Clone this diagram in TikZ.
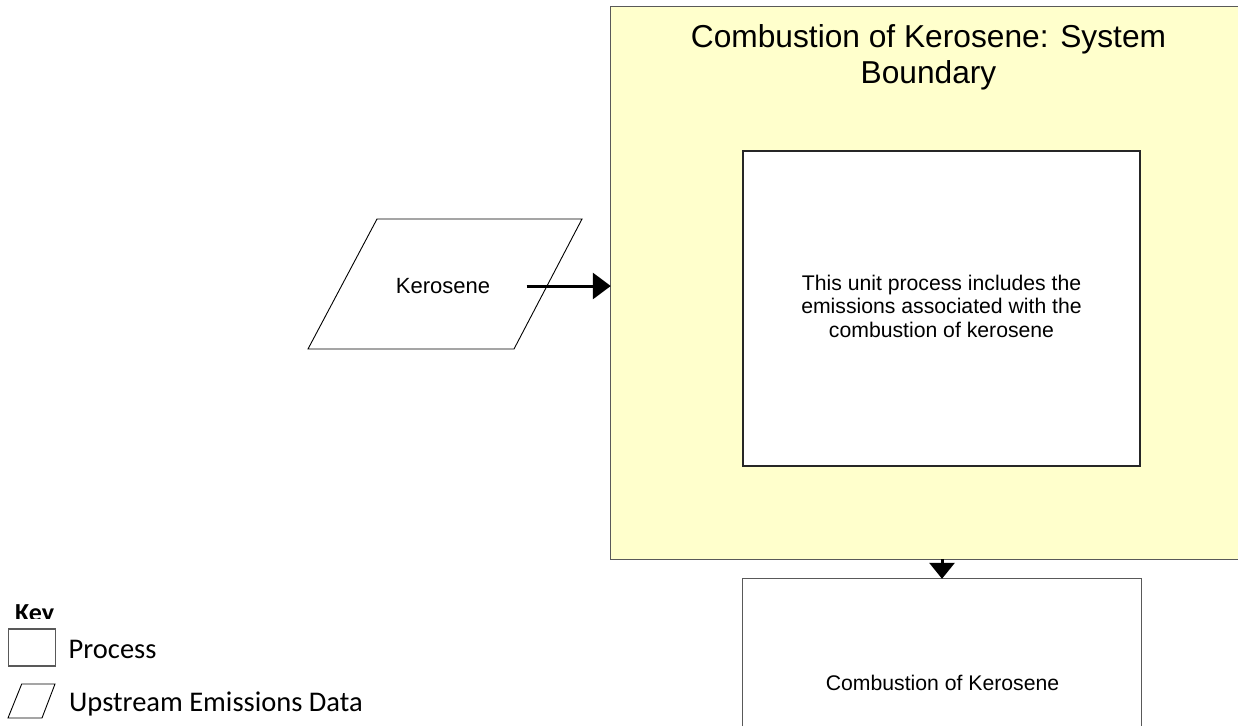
\documentclass[tikz,border=0pt]{standalone}
\usepackage{fontspec}
\setmainfont{Liberation Sans}
\newfontfamily\keyfont{Carlito}
\usetikzlibrary{arrows.meta}
\definecolor{bndfill}{HTML}{FFFFCC}
\definecolor{edgegray}{HTML}{595959}
\tikzset{
  boxline/.style={draw=edgegray, line width=1.3pt},
  procbox/.style={boxline, fill=white, inner sep=0pt},
  datashape/.style={draw=black, line width=0.9pt, fill=white, line join=miter},
  flowarrow/.style={line width=3pt, -{Triangle[length=18pt,width=26pt]}},
  downarrow/.style={line width=3pt, -{Triangle[length=16pt,width=25pt]}},
  bodytext/.style={font=\fontsize{21.2}{23.4}\selectfont, align=center, inner sep=0pt},
  titletext/.style={font=\fontsize{31.7}{36}\selectfont, align=center, inner sep=0pt},
  keytext/.style={font=\keyfont\fontsize{28.5}{30}\selectfont, inner sep=0pt, anchor=base west},
}
\begin{document}
\begin{tikzpicture}[x=1pt,y=-1pt]
\useasboundingbox (0,0) rectangle (1238,726);
\fill[white] (0,0) rectangle (1238,726);

% system boundary (runs off the right edge: no right side drawn)
\node[fill=bndfill, minimum width=627pt, minimum height=552pt, inner sep=0pt] (boundary) at (924.5,283) {};
\draw[edgegray, line width=1.3pt, line join=miter] (boundary.north east) -- (boundary.north west) -- (boundary.south west) -- (boundary.south east);
\node[titletext, anchor=base] (title) at (928.5,83) {Combustion of Kerosene: System\\Boundary};

% inner unit process
\node[procbox, draw=black!85, minimum width=397pt, minimum height=315pt] (unit) at (941.5,308.5) {};
\node[bodytext, anchor=base] (unittext) at (941.5,337.3) {This unit process includes the\\emissions associated with the\\combustion of kerosene};

% kerosene input (parallelogram)
\draw[datashape] (377,219) -- (582,219) -- (514,349) -- (308,349) -- cycle;
\node[bodytext, font=\fontsize{22}{24}\selectfont, anchor=base] (kero) at (443,293) {Kerosene};
\coordinate (kstart) at (526.7,286);
\draw[flowarrow] (kstart) -- (kstart -| boundary.west);

% output process (runs off the bottom edge: no bottom side drawn)
\node[fill=white, minimum width=398pt, minimum height=147pt, inner sep=0pt] (comb) at (942,652.5) {};
\draw[edgegray, line width=1.3pt, line join=miter] (comb.south west) -- (comb.north west) -- (comb.north east) -- (comb.south east);
\node[bodytext, anchor=base] (combtext) at (942.5,690) {Combustion of Kerosene};
\draw[downarrow] (comb.north |- boundary.south) -- (comb.north);

% key
\begin{scope}
\clip (0,590) rectangle (200,618);
\node[inner sep=0pt, anchor=base west, font=\keyfont\bfseries\fontsize{26}{28}\selectfont] (keytitle) at (15,621.7) {Key};
\end{scope}
\node[boxline, fill=white, minimum width=47.5pt, minimum height=37pt, inner sep=0pt] (keyproc) at (32,647.5) {};
\node[keytext] (keyproclbl) at (68.5,658) {Process};
\draw[datashape] (21.7,684) -- (55,684) -- (42,718) -- (8,718) -- cycle;
\node[keytext] (keydatalbl) at (69,711) {Upstream Emissions Data};
\end{tikzpicture}
\end{document}
